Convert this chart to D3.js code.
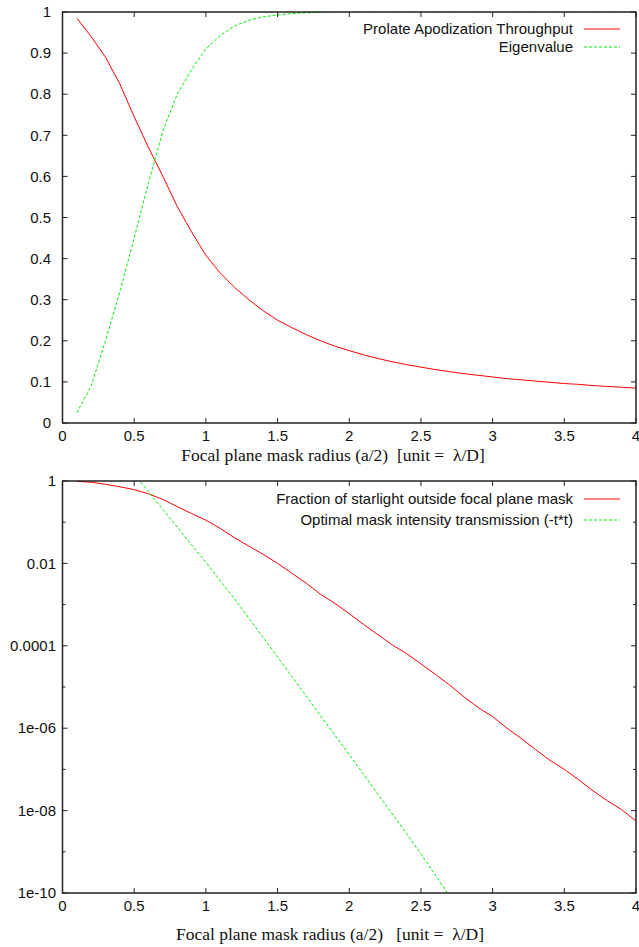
<!DOCTYPE html>
<html>
<head>
<meta charset="utf-8">
<script src="https://cdn.jsdelivr.net/npm/d3@7"></script>
<style>
  body { margin: 0; background: #fff; }
  .tick-label { font-family: "Liberation Sans", Arial, sans-serif; font-size: 15px; fill: #111; }
  .legend-label { font-family: "Liberation Sans", Arial, sans-serif; font-size: 15px; fill: #111; }
  .axis-title { font-family: "Liberation Serif", "Times New Roman", serif; font-size: 17.5px; fill: #111; white-space: pre; }
</style>
</head>
<body>
<script>
// ---- data ----
var radius = [0.1,0.2,0.3,0.4,0.5,0.6,0.7,0.8,0.9,1.0,
              1.1,1.2,1.3,1.4,1.5,1.6,1.7,1.8,1.9,2.0,
              2.1,2.2,2.3,2.4,2.5,2.6,2.7,2.8,2.9,3.0,
              3.1,3.2,3.3,3.4,3.5,3.6,3.7,3.8,3.9,4.0];

var throughput = [0.985,0.94,0.89,0.825,0.745,0.67,0.60,0.527,0.465,0.408,
                  0.365,0.33,0.30,0.273,0.250,0.232,0.215,0.200,0.187,0.176,
                  0.166,0.157,0.149,0.142,0.136,0.130,0.125,0.120,0.116,0.112,
                  0.108,0.105,0.102,0.099,0.096,0.094,0.091,0.089,0.087,0.085];

var eigenvalue = [0.025,0.09,0.20,0.32,0.45,0.585,0.71,0.80,0.86,0.91,
                  0.943,0.966,0.980,0.988,0.993,0.996,0.998,0.999,1.0,1.0,
                  1.0,1.0,1.0,1.0,1.0,1.0,1.0,1.0,1.0,1.0,
                  1.0,1.0,1.0,1.0,1.0,1.0,1.0,1.0,1.0,1.0];

var starlightOutside = [0.977,0.933,0.832,0.724,0.617,0.490,0.355,0.240,0.162,0.112,
                        0.0708,0.0417,0.0263,0.0166,0.0100,5.75e-3,3.31e-3,1.78e-3,1.07e-3,6.03e-4,
                        3.31e-4,1.86e-4,1.05e-4,6.46e-5,3.63e-5,2.04e-5,1.12e-5,5.75e-6,3.16e-6,1.91e-6,
                        1.00e-6,5.62e-7,3.02e-7,1.66e-7,1.00e-7,5.62e-8,3.02e-8,1.74e-8,1.05e-8,5.62e-9];

var maskRadius = [0.5,0.6,0.7,0.8,0.9,1.0,1.1,1.2,1.3,1.4,1.5,1.6,
                  1.7,1.8,1.9,2.0,2.1,2.2,2.3,2.4,2.5,2.6,2.7];
var maskTransmission = [1.445,0.550,0.204,0.0759,0.0282,0.0107,3.80e-3,1.38e-3,4.68e-4,1.58e-4,5.37e-5,1.78e-5,
                        6.03e-6,2.00e-6,6.76e-7,2.29e-7,7.59e-8,2.51e-8,8.32e-9,2.75e-9,8.91e-10,2.75e-10,8.32e-11];

var xTicks = [0,0.5,1,1.5,2,2.5,3,3.5,4];
var xTickLabels = ["0","0.5","1","1.5","2","2.5","3","3.5","4"];
var yTicksTop = [0,0.1,0.2,0.3,0.4,0.5,0.6,0.7,0.8,0.9,1];
var yTickLabelsTop = ["0","0.1","0.2","0.3","0.4","0.5","0.6","0.7","0.8","0.9","1"];
var yTicksBottom = [1e-10,1e-8,1e-6,1e-4,1e-2,1];
var yTickLabelsBottom = ["1e-10","1e-08","1e-06","0.0001","0.01","1"];
var yMinorBottom = [1e-9,1e-7,1e-5,1e-3,1e-1];

var xTitle = "Focal plane mask radius (a/2)  [unit =  \u03bb/D]";
var xTitle2 = "Focal plane mask radius (a/2)   [unit =  \u03bb/D]";

var svg = d3.select("body").append("svg")
    .attr("width", 639)
    .attr("height", 947);

function drawPanel(p) {
  var g = svg.append("g");
  var x = d3.scaleLinear().domain([0, 4]).range([p.left, p.right]);
  var y = p.y;

  var clipId = "clip" + p.id;
  svg.append("clipPath").attr("id", clipId)
    .append("rect")
      .attr("x", p.left).attr("y", p.top)
      .attr("width", p.right - p.left).attr("height", p.bottom - p.top);

  // x ticks, bottom and mirrored on top, pointing inward
  xTicks.forEach(function(t, i) {
    g.append("line").attr("x1", x(t)).attr("x2", x(t))
      .attr("y1", p.bottom).attr("y2", p.bottom - 5)
      .attr("stroke", "#222");
    g.append("line").attr("x1", x(t)).attr("x2", x(t))
      .attr("y1", p.top).attr("y2", p.top + 5)
      .attr("stroke", "#222");
    g.append("text").attr("class", "tick-label")
      .attr("x", x(t)).attr("y", p.bottom + 18)
      .attr("text-anchor", "middle")
      .text(xTickLabels[i]);
  });

  // y ticks left and right
  p.yTicks.forEach(function(t, i) {
    g.append("line").attr("x1", p.left).attr("x2", p.left + 5)
      .attr("y1", y(t)).attr("y2", y(t)).attr("stroke", "#222");
    g.append("line").attr("x1", p.right).attr("x2", p.right - 5)
      .attr("y1", y(t)).attr("y2", y(t)).attr("stroke", "#222");
    g.append("text").attr("class", "tick-label")
      .attr("x", p.labelX).attr("y", y(t))
      .attr("dy", "0.35em")
      .attr("text-anchor", "end")
      .text(p.yLabels[i]);
  });
  (p.yMinor || []).forEach(function(t) {
    g.append("line").attr("x1", p.left).attr("x2", p.left + 3)
      .attr("y1", y(t)).attr("y2", y(t)).attr("stroke", "#222");
    g.append("line").attr("x1", p.right).attr("x2", p.right - 3)
      .attr("y1", y(t)).attr("y2", y(t)).attr("stroke", "#222");
  });

  // curves
  p.series.forEach(function(s) {
    var pts = s.x.map(function(d, i) { return [d, s.y[i]]; });
    var line = d3.line()
      .x(function(d) { return x(d[0]); })
      .y(function(d) { return y(d[1]); });
    g.append("path")
      .attr("clip-path", "url(#" + clipId + ")")
      .attr("d", line(pts))
      .attr("fill", "none")
      .attr("stroke", s.color)
      .attr("stroke-width", 1)
      .attr("stroke-dasharray", s.dash ? "3,2" : null);
  });

  // frame
  g.append("rect")
    .attr("x", p.left).attr("y", p.top)
    .attr("width", p.right - p.left).attr("height", p.bottom - p.top)
    .attr("fill", "none").attr("stroke", "#222").attr("stroke-width", 1.5);

  // legend
  p.series.forEach(function(s, i) {
    var ly = p.legendY + i * p.legendStep;
    g.append("text").attr("class", "legend-label")
      .attr("x", 573).attr("y", ly)
      .attr("dy", "0.35em")
      .attr("text-anchor", "end")
      .text(s.name);
    g.append("line")
      .attr("x1", 584).attr("x2", 620)
      .attr("y1", ly).attr("y2", ly)
      .attr("stroke", s.color)
      .attr("stroke-width", 1)
      .attr("stroke-dasharray", s.dash ? "3,2" : null);
  });

  g.append("text").attr("class", "axis-title")
    .attr("x", p.titleX).attr("y", p.titleY)
    .attr("text-anchor", "middle")
    .text(p.title);
}

drawPanel({
  id: "top", left: 62.5, right: 636, top: 12, bottom: 423,
  y: d3.scaleLinear().domain([0, 1]).range([423, 12]),
  yTicks: yTicksTop, yLabels: yTickLabelsTop, labelX: 51,
  legendY: 29, legendStep: 18,
  title: xTitle, titleX: 333, titleY: 461,
  series: [
    {name: "Prolate Apodization Throughput", x: radius, y: throughput, color: "#ff0000", dash: false},
    {name: "Eigenvalue", x: radius, y: eigenvalue, color: "#00ee00", dash: true}
  ]
});

drawPanel({
  id: "bot", left: 62.5, right: 636, top: 481, bottom: 893,
  y: d3.scaleLog().domain([1e-10, 1]).range([893, 481]),
  yTicks: yTicksBottom, yLabels: yTickLabelsBottom, yMinor: yMinorBottom, labelX: 56,
  legendY: 499, legendStep: 21,
  title: xTitle2, titleX: 330, titleY: 940,
  series: [
    {name: "Fraction of starlight outside focal plane mask", x: radius, y: starlightOutside, color: "#ff0000", dash: false},
    {name: "Optimal mask intensity transmission (-t*t)", x: maskRadius, y: maskTransmission, color: "#00ee00", dash: true}
  ]
});
</script>
</body>
</html>
